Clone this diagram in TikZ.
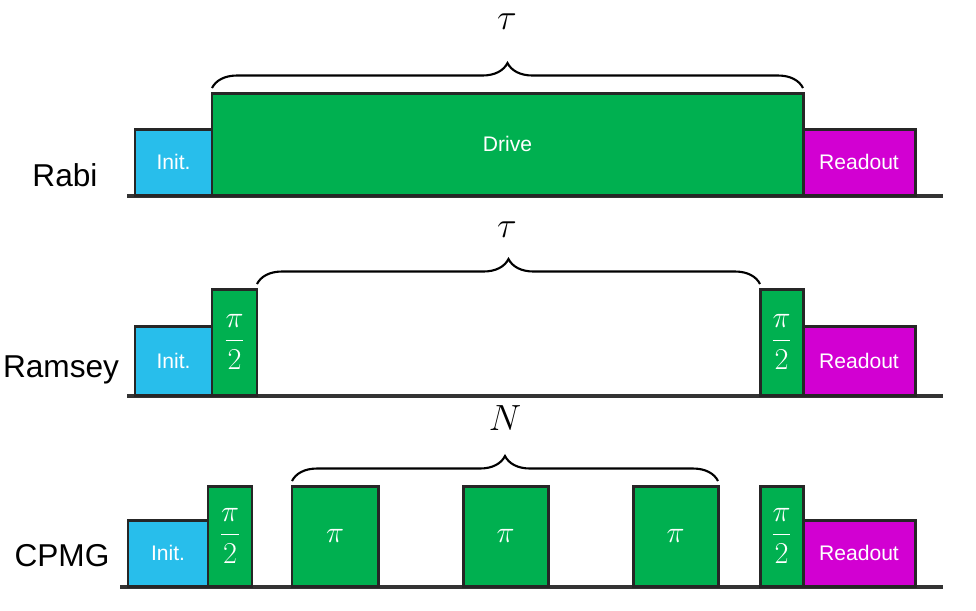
\documentclass[tikz,border=0pt]{standalone}
\usepackage{fontspec}
\setmainfont{Liberation Sans}
\usetikzlibrary{calc,decorations.pathreplacing}

\definecolor{initblue}{RGB}{40,190,235}
\definecolor{pulsegreen}{RGB}{0,176,80}
\definecolor{readmag}{RGB}{210,0,210}

% pulse box: name, x left, x right, y top, y bottom, colour, text
\newcommand{\pulsebox}[7]{%
  \node[pulse, fill=#6, minimum width={(#3-#2)*0.02cm}, minimum height={(#5-#4)*0.02cm}]
    (#1) at ({(#2+#3)/2},{(#4+#5)/2}) {#7};}
\newcommand{\halfpi}{\fontsize{17}{19}\selectfont$\displaystyle\frac{\pi}{2}$}
\newcommand{\fullpi}{\fontsize{17}{19}\selectfont$\pi$}

\tikzset{
  pulse/.style={draw=black!85, line width=1.7pt, inner sep=0pt, outer sep=0pt,
    text=white, font=\fontsize{12}{14}\selectfont},
  base/.style={line width=2.6pt, black!80},
  rowlabel/.style={font=\fontsize{18}{20}\selectfont},
  span/.style={decorate, decoration={brace, amplitude=0.5cm}, line width=1.2pt},
  spanlabel/.style={font=\fontsize{20}{22}\selectfont}
}

\begin{document}
\begin{tikzpicture}[x=0.02cm, y=-0.02cm]
\useasboundingbox (0,0) rectangle (976,610);

% Rabi
\draw[base] (127,196) coordinate (rabiL) -- (943,196) coordinate (rabiR);
\pulsebox{rabiinit}{135}{212}{129}{195}{initblue}{Init.}
\pulsebox{drive}{212}{803}{93}{195}{pulsegreen}{Drive}
\pulsebox{rabiread}{803}{915}{129}{195}{readmag}{Readout}
\node[rowlabel] (rabi) at (65,175) {Rabi};
\draw[span] ($(drive.north west)+(0,-5)$) -- ($(drive.north east)+(0,-5)$);
\node[spanlabel] (tau1) at (507,22) {$\tau$};

% Ramsey
\draw[base] (127,396) coordinate (ramL) -- (943,396) coordinate (ramR);
\pulsebox{raminit}{135}{212}{326}{395}{initblue}{Init.}
\pulsebox{ramhalfa}{212}{257}{289}{395}{pulsegreen}{\halfpi}
\pulsebox{ramhalfb}{760}{803}{289}{395}{pulsegreen}{\halfpi}
\pulsebox{ramread}{803}{915}{326}{395}{readmag}{Readout}
\node[rowlabel] (ramsey) at (61,370) {Ramsey};
\draw[span] ($(ramhalfa.north east)+(0,-5)$) -- ($(ramhalfb.north west)+(0,-5)$);
\node[spanlabel] (tau2) at (507,230) {$\tau$};

% CPMG
\draw[base] (120,587) coordinate (cpL) -- (943,587) coordinate (cpR);
\pulsebox{cpinit}{128}{208}{520}{586}{initblue}{Init.}
\pulsebox{cphalfa}{208}{252}{486}{586}{pulsegreen}{\halfpi}
\pulsebox{cppia}{292}{378}{486}{586}{pulsegreen}{\fullpi}
\pulsebox{cppib}{463}{548}{486}{586}{pulsegreen}{\fullpi}
\pulsebox{cppic}{633}{718}{486}{586}{pulsegreen}{\fullpi}
\pulsebox{cphalfb}{760}{803}{486}{586}{pulsegreen}{\halfpi}
\pulsebox{cpread}{803}{915}{520}{586}{readmag}{Readout}
\node[rowlabel] (cpmg) at (62,556) {CPMG};
\draw[span] ($(cppia.north west)+(0,-5)$) -- ($(cppic.north east)+(0,-5)$);
\node[spanlabel] (count) at (505,418) {$N$};
\end{tikzpicture}
\end{document}
